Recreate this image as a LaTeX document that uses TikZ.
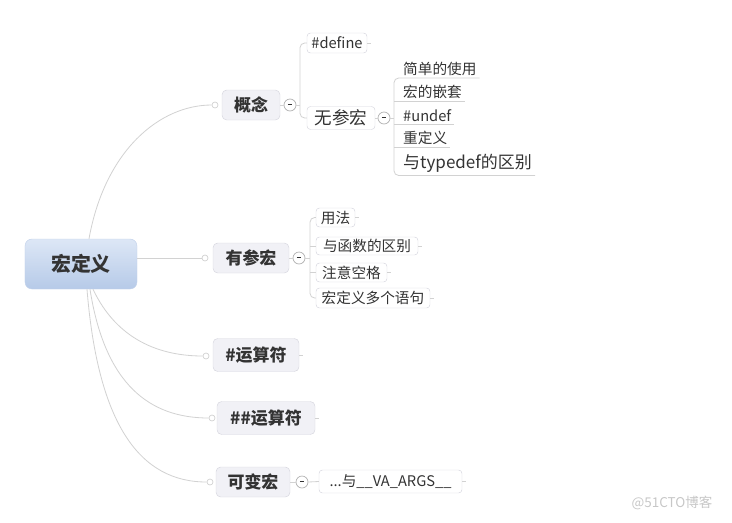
\documentclass[tikz,border=0pt]{standalone}
\usepackage{fontspec}
\setmainfont{Noto Sans CJK SC}
\usetikzlibrary{positioning,calc}
\definecolor{linegray}{HTML}{D2D2D2}
\definecolor{boxline}{HTML}{D6D6DE}
\definecolor{boxfill}{HTML}{F1F1F6}
\definecolor{roottop}{HTML}{DDE7F6}
\definecolor{rootbot}{HTML}{B6CAE8}
\definecolor{rootline}{HTML}{C2D1EA}
\definecolor{txt}{HTML}{333333}
\newcommand{\minus}{\rule[0.2ex]{3.6pt}{1pt}}

\begin{document}
\begin{tikzpicture}[
    x=0.03cm, y=-0.03cm,
    every node/.style={text=txt, inner sep=0pt},
    root/.style={
        rectangle, rounded corners=6pt, draw=rootline,
        top color=roottop, bottom color=rootbot,
        font=\fontsize{17}{17}\selectfont\bfseries,
    },
    topic/.style={
        rectangle, rounded corners=4pt, draw=boxline, fill=boxfill,
        font=\fontsize{14.5}{14.5}\selectfont\bfseries,
    },
    sub/.style={
        rectangle, rounded corners=3pt, draw=boxline, fill=white,
        font=\fontsize{12.5}{12.5}\selectfont,
    },
    leaf/.style={
        anchor=south west, inner xsep=0.09cm, inner ysep=0.07cm,
        font=\fontsize{12.5}{12.5}\selectfont,
    },
    conn/.style={draw=linegray, line width=0.7pt},
    dot/.style={circle, draw=linegray, fill=white, minimum size=0.18cm, line width=0.6pt},
    fold/.style={circle, draw=black!30, fill=white, minimum size=0.36cm, line width=0.6pt,
        text=txt},
    wmark/.style={text=black!22, font=\fontsize{11.5}{11.5}\selectfont},
    ]
    \useasboundingbox (0,0) rectangle (732,522);

    % centre
    \node[root, minimum width=3.36cm, minimum height=1.5cm] (macro) at (81,264) {宏定义};

    % first level
    \node[topic, minimum width=1.74cm, minimum height=0.9cm] (concept) at (251,105) {概念};
    \node[topic, minimum width=2.28cm, minimum height=0.9cm] (param) at (251,258) {有参宏};
    \node[topic, minimum width=2.58cm, minimum height=0.99cm] (hash) at (256,355) {\#运算符};
    \node[topic, minimum width=2.94cm, minimum height=0.99cm] (hhash) at (266,418) {\#\#运算符};
    \node[topic, minimum width=2.22cm, minimum height=0.9cm] (vari) at (253,482) {可变宏};

    \node[dot] (d1) at (215,105) {};
    \node[dot] (d2) at (205,258) {};
    \node[dot] (d3) at (206,356) {};
    \node[dot] (d4) at (212,418) {};
    \node[dot] (d5) at (210,482) {};

    \draw[conn] ($(macro.north)+(8,0)$) .. controls (105,150) and (160,105) .. (d1.west);
    \draw[conn] (macro.east |- d2) -- (d2.west);
    \draw[conn] ($(macro.south)+(12,0)$) .. controls (117,340) and (160,356) .. (d3.west);
    \draw[conn] ($(macro.south)+(9,0)$) .. controls (105,385) and (150,418) .. (d4.west);
    \draw[conn] ($(macro.south)+(6,0)$) .. controls (98,425) and (140,482) .. (d5.west);

    % 概念
    \node[fold] (f1) at (290,105) {\minus};
    \draw[conn] (concept.east) -- (f1.west);
    \node[sub, minimum width=1.8cm, minimum height=0.6cm] (define) at (337,43) {\#define};
    \node[sub, minimum width=2.04cm, minimum height=0.69cm,
        font=\fontsize{15}{15}\selectfont] (noparam) at (341,118) {无参宏};
    \coordinate (b1) at (300,105);
    \draw[conn] (f1.east) -- (b1);
    \draw[conn, rounded corners=4pt] (define.west) -- (b1 |- define.west) -- (b1 |- noparam.west) -- (noparam.west);
    \draw[conn] (define.east) -- ++(4,0);

    % 无参宏
    \node[fold] (f2) at (384,118) {\minus};
    \draw[conn] (noparam.east) -- (f2.west);
    \coordinate (b2) at (394,118);
    \draw[conn] (f2.east) -- (b2);
    \node[leaf] (u1) at (400,78) {简单的使用};
    \node[leaf] (u2) at (400,101) {宏的嵌套};
    \node[leaf] (u3) at (400,124.5) {\#undef};
    \node[leaf] (u4) at (400,147.5) {重定义};
    \node[leaf, font=\fontsize{14.5}{14.5}\selectfont] (u5) at (400,175.5) {与typedef的区别};
    \draw[conn, rounded corners=4pt] (u1.south east) -- (b2 |- u1.south) -- (b2 |- u5.south) -- (u5.south east);
    \foreach \u in {u2,u3,u4}
        \draw[conn, rounded corners=3pt] (b2 |- \u.south) -- (\u.south east);

    % 有参宏
    \node[fold] (f3) at (299,258) {\minus};
    \draw[conn] (param.east) -- (f3.west);
    \node[sub, minimum width=1.17cm, minimum height=0.57cm] (usage) at (335.5,217.5) {用法};
    \node[sub, minimum width=3.06cm, minimum height=0.54cm] (func) at (367,246) {与函数的区别};
    \node[sub, minimum width=2.13cm, minimum height=0.57cm] (space) at (351.5,272.5) {注意空格};
    \node[sub, minimum width=3.42cm, minimum height=0.6cm] (multi) at (373,298) {宏定义多个语句};
    \coordinate (b3) at (310,258);
    \draw[conn] (f3.east) -- (b3);
    \draw[conn, rounded corners=4pt] (usage.west) -- (b3 |- usage.west) -- (b3 |- multi.west) -- (multi.west);
    \foreach \s in {func,space}
        \draw[conn] (b3 |- \s.west) -- (\s.west);
    \foreach \s in {usage,func,space,multi}
        \draw[conn] (\s.east) -- ++(4,0);

    % 运算符
    \draw[conn] (hash.east) -- ++(4,0);
    \draw[conn] (hhash.east) -- ++(4,0);

    % 可变宏
    \node[fold] (f4) at (302,482) {\minus};
    \draw[conn] (vari.east) -- (f4.west);
    \node[sub, minimum width=4.29cm, minimum height=0.69cm] (vaargs) at (390.5,481.5) {...与\_\_VA\_ARGS\_\_};
    \draw[conn] (f4.east) -- (vaargs.west);
    \draw[conn] (vaargs.east) -- ++(4,0);

    \node[wmark] (wm) at (672,503) {@51CTO博客};
\end{tikzpicture}
\end{document}
